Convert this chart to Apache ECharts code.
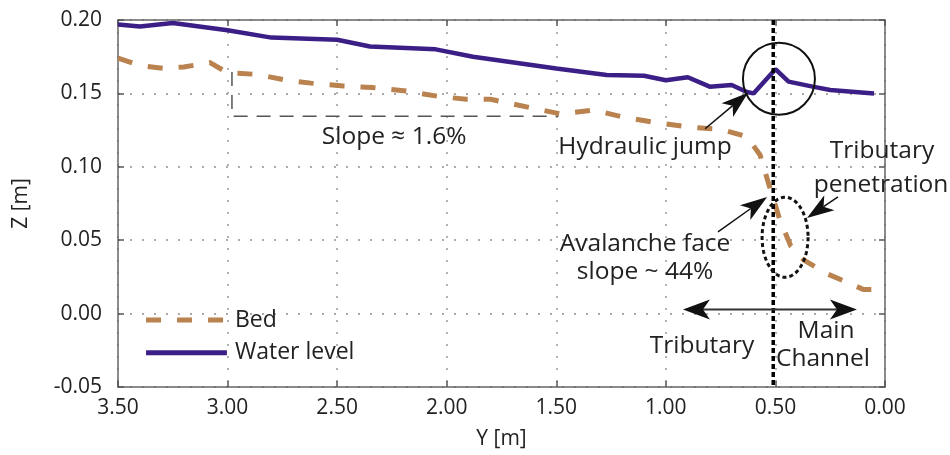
<!DOCTYPE html>
<html>
<head>
<meta charset="utf-8">
<title>Bed and water level profile</title>
<script src="https://cdn.jsdelivr.net/npm/echarts@6/dist/echarts.min.js"></script>
<style>
  html, body { margin: 0; padding: 0; background: #fff; }
  #chart { width: 950px; height: 455px; }
</style>
</head>
<body>
<div id="chart"></div>
<script>
// Distance across the confluence, Y [m], with elevations Z [m]
const waterY = [3.50, 3.40, 3.25, 3.00, 2.80, 2.50, 2.35, 2.05, 1.88, 1.50, 1.27, 1.10, 1.00, 0.90, 0.80, 0.70, 0.63, 0.60, 0.50, 0.44, 0.33, 0.25, 0.05];
const waterZ = [0.197, 0.1955, 0.198, 0.193, 0.188, 0.1865, 0.182, 0.180, 0.175, 0.167, 0.1625, 0.162, 0.159, 0.161, 0.1546, 0.1557, 0.151, 0.150, 0.1665, 0.158, 0.1546, 0.1523, 0.150];

const bedY = [3.50, 3.40, 3.29, 3.20, 3.08, 3.00, 2.87, 2.73, 2.62, 2.47, 2.34, 2.18, 2.04, 1.91, 1.80, 1.61, 1.48, 1.33, 1.20, 1.04, 0.89, 0.75, 0.63, 0.57, 0.53, 0.48, 0.43, 0.37, 0.27, 0.16, 0.10, 0.06];
const bedZ = [0.174, 0.169, 0.167, 0.168, 0.171, 0.164, 0.163, 0.159, 0.157, 0.155, 0.154, 0.1515, 0.148, 0.146, 0.146, 0.140, 0.136, 0.1387, 0.134, 0.130, 0.127, 0.1255, 0.1205, 0.108, 0.088, 0.064, 0.046, 0.0365, 0.0275, 0.0205, 0.0165, 0.0165];

const yTicks = [-0.05, 0.00, 0.05, 0.10, 0.15, 0.20];
const xTicks = [0.00, 0.50, 1.00, 1.50, 2.00, 2.50, 3.00, 3.50];

// Confluence position and slope guide
const confluenceY = 0.51;
const slopeGuide = [[2.98, 0.1646], [2.98, 0.1344], [1.49, 0.1344]];

const seriesNames = ['Bed', 'Water level'];

const FONT = "'Open Sans', 'Noto Sans', sans-serif";
const TEXT = '#222';
const WATER = '#3c1f86';
const BED = '#b9824f';
const BED_DASH = [15, 16];
const NOTE_FONT = '24.5px ' + FONT;

const zip = (a, b) => a.map((v, i) => [v, b[i]]);

// Annotation layout, in data units
const notes = {
  texts: [
    { t: 'Slope \u2248 1.6%', at: [2.24, 0.1204] },
    { t: 'Hydraulic jump', at: [1.095, 0.1136] },
    { t: 'Tributary', at: [0.0137, 0.111] },
    { t: 'penetration', at: [0.018, 0.0877] },
    { t: 'Avalanche face', at: [1.095, 0.0475] },
    { t: 'slope ~ 44%', at: [1.095, 0.0284] },
    { t: 'Tributary', at: [0.835, -0.0221] },
    { t: 'Main', at: [0.269, -0.0119] },
    { t: 'Channel', at: [0.283, -0.031] }
  ],
  arrows: [
    { from: [0.821, 0.1259], to: [0.625, 0.1504] },
    { from: [0.762, 0.0557], to: [0.538, 0.0795] },
    { from: [0.2145, 0.0795], to: [0.356, 0.0652] }
  ],
  doubleArrow: { from: [0.922, 0.0028], to: [0.128, 0.0028] },
  jumpCircle: { at: [0.484, 0.160], r: 36 },
  penetrationEllipse: { at: [0.456, 0.052], rx: 23, ry: 40 },
  // legend keys: line sample from x0 to x1 at each row level
  legend: { x0: 3.372, x1: 3.003, rows: [-0.0044, -0.0267] }
};

function arrowHead(tip, from, len, half, notch) {
  const dx = tip[0] - from[0], dy = tip[1] - from[1];
  const d = Math.hypot(dx, dy);
  const ux = dx / d, uy = dy / d, nx = -uy, ny = ux;
  const bx = tip[0] - ux * len, by = tip[1] - uy * len;
  return {
    head: [
      tip,
      [bx + nx * half, by + ny * half],
      [tip[0] - ux * (len - notch), tip[1] - uy * (len - notch)],
      [bx - nx * half, by - ny * half]
    ],
    neck: [tip[0] - ux * (len - notch), tip[1] - uy * (len - notch)]
  };
}

function ellipsePoints(c, rx, ry) {
  const pts = [];
  for (let i = 0; i < 120; i++) {
    const a = (i / 120) * Math.PI * 2;
    pts.push([c[0] + rx * Math.cos(a), c[1] + ry * Math.sin(a)]);
  }
  return pts;
}

function renderNotes(params, api) {
  const kids = [];
  const P = (v) => api.coord(v);

  notes.texts.forEach((n) => {
    const p = P(n.at);
    kids.push({
      type: 'text',
      style: { text: n.t, x: p[0], y: p[1], align: 'center', verticalAlign: 'middle',
               fill: TEXT, font: NOTE_FONT }
    });
  });

  notes.arrows.forEach((a) => {
    const s = P(a.from), e = P(a.to);
    const h = arrowHead(e, s, 27, 9, 7);
    kids.push({ type: 'line', shape: { x1: s[0], y1: s[1], x2: h.neck[0], y2: h.neck[1] },
                style: { stroke: '#111', lineWidth: 1.5 } });
    kids.push({ type: 'polygon', shape: { points: h.head }, style: { fill: '#111' } });
  });

  const l = P(notes.doubleArrow.from), r = P(notes.doubleArrow.to);
  const hl = arrowHead(l, r, 27, 10, 7), hr = arrowHead(r, l, 27, 10, 7);
  kids.push({ type: 'line', shape: { x1: hl.neck[0], y1: hl.neck[1], x2: hr.neck[0], y2: hr.neck[1] },
              style: { stroke: '#333', lineWidth: 2 } });
  kids.push({ type: 'polygon', shape: { points: hl.head }, style: { fill: '#111' } });
  kids.push({ type: 'polygon', shape: { points: hr.head }, style: { fill: '#111' } });

  const c = P(notes.jumpCircle.at);
  kids.push({ type: 'circle', shape: { cx: c[0], cy: c[1], r: notes.jumpCircle.r },
              style: { fill: 'none', stroke: '#111', lineWidth: 2 } });

  const ec = P(notes.penetrationEllipse.at);
  kids.push({ type: 'polygon',
              shape: { points: ellipsePoints(ec, notes.penetrationEllipse.rx, notes.penetrationEllipse.ry) },
              style: { fill: 'none', stroke: '#111', lineWidth: 3, lineDash: [4, 3] } });

  // legend keys
  const lg = notes.legend;
  const keyStyles = [
    { stroke: BED, lineWidth: 5, lineDash: BED_DASH },
    { stroke: WATER, lineWidth: 5 }
  ];
  lg.rows.forEach((yv, i) => {
    const a = P([lg.x0, yv]), b = P([lg.x1, yv]);
    kids.push({ type: 'line', shape: { x1: a[0], y1: a[1], x2: b[0], y2: b[1] }, style: keyStyles[i] });
    kids.push({ type: 'text',
                style: { text: seriesNames[i], x: b[0] + 8, y: a[1], align: 'left', verticalAlign: 'middle',
                         fill: TEXT, font: '23px ' + FONT } });
  });

  return { type: 'group', children: kids };
}

const axisLine = { show: true, onZero: false, lineStyle: { color: '#666', width: 1.5 } };
const axisTick = { show: true, inside: true, length: 6, lineStyle: { color: '#555', width: 1.5 } };
const grid = { show: true, lineStyle: { color: '#aaa', width: 1.8, type: [2, 10] } };

const chart = echarts.init(document.getElementById('chart'), null, { renderer: 'canvas' });

chart.setOption({
  animation: false,
  backgroundColor: '#fff',
  textStyle: { fontFamily: FONT },
  grid: { left: 118, right: 65, top: 20, bottom: 68 },
  xAxis: [
    {
      type: 'value', inverse: true, min: xTicks[0], max: xTicks[xTicks.length - 1], interval: 0.5,
      position: 'bottom',
      name: 'Y [m]', nameLocation: 'middle', nameGap: 42,
      nameTextStyle: { fontSize: 21, color: TEXT, fontFamily: FONT },
      axisLine, axisTick,
      axisLabel: { fontSize: 21, color: TEXT, margin: 11, fontFamily: FONT, formatter: (v) => v.toFixed(2) },
      splitLine: grid
    },
    {
      type: 'value', inverse: true, min: xTicks[0], max: xTicks[xTicks.length - 1], interval: 0.5,
      position: 'top', axisLine, axisTick, axisLabel: { show: false }, splitLine: { show: false }
    }
  ],
  yAxis: [
    {
      type: 'value', min: yTicks[0], max: yTicks[yTicks.length - 1], interval: 0.05,
      position: 'left',
      name: 'Z [m]', nameLocation: 'middle', nameGap: 86, nameRotate: 90,
      nameTextStyle: { fontSize: 21, color: TEXT, fontFamily: FONT },
      axisLine, axisTick,
      axisLabel: { fontSize: 21, color: TEXT, margin: 16, fontFamily: FONT, formatter: (v) => v.toFixed(2) },
      splitLine: grid
    },
    {
      type: 'value', min: yTicks[0], max: yTicks[yTicks.length - 1], interval: 0.05,
      position: 'right', axisLine, axisTick, axisLabel: { show: false }, splitLine: { show: false }
    }
  ],
  series: [
    {
      name: seriesNames[0], type: 'line', data: zip(bedY, bedZ), showSymbol: false, symbol: 'none',
      lineStyle: { color: BED, width: 5, type: BED_DASH }, itemStyle: { color: BED }, z: 3
    },
    {
      name: seriesNames[1], type: 'line', data: zip(waterY, waterZ), showSymbol: false, symbol: 'none',
      lineStyle: { color: WATER, width: 4.5 }, itemStyle: { color: WATER }, z: 4
    },
    {
      name: 'confluence', type: 'line', silent: true, symbol: 'none',
      data: [[confluenceY, yTicks[yTicks.length - 1]], [confluenceY, yTicks[0]]],
      lineStyle: { color: '#000', width: 3.5, type: [5, 3] }, z: 5
    },
    {
      name: 'slope guide', type: 'line', silent: true, symbol: 'none', data: slopeGuide,
      lineStyle: { color: '#555', width: 1.5, type: [14, 9] }, z: 2
    },
    {
      name: 'notes', type: 'custom', silent: true, clip: false, z: 6,
      data: [[0.5, 0.1]], renderItem: renderNotes
    }
  ]
});
</script>
</body>
</html>
